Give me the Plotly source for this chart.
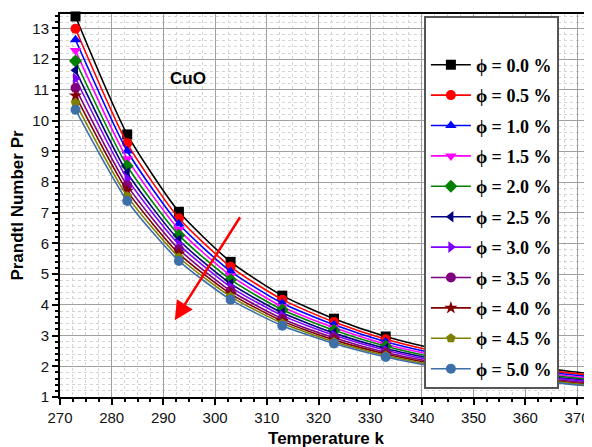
import plotly.graph_objects as go

temps = [273, 283, 293, 303, 313, 323, 333, 343, 353, 363, 373]
labels = ["ϕ = 0.0 %", "ϕ = 0.5 %", "ϕ = 1.0 %", "ϕ = 1.5 %", "ϕ = 2.0 %", "ϕ = 2.5 %",
          "ϕ = 3.0 %", "ϕ = 3.5 %", "ϕ = 4.0 %", "ϕ = 4.5 %", "ϕ = 5.0 %"]
pr_00 = [13.39, 9.55, 7.03, 5.40, 4.30, 3.55, 2.97, 2.55, 2.22, 1.95, 1.75]
pr_05 = [12.99, 9.26, 6.82, 5.24, 4.17, 3.44, 2.88, 2.47, 2.15, 1.89, 1.70]
pr_10 = [12.63, 9.01, 6.63, 5.09, 4.05, 3.35, 2.80, 2.40, 2.09, 1.84, 1.65]
pr_15 = [12.28, 8.76, 6.45, 4.95, 3.94, 3.26, 2.72, 2.34, 2.04, 1.79, 1.60]
pr_20 = [11.94, 8.52, 6.27, 4.82, 3.84, 3.17, 2.65, 2.27, 1.98, 1.74, 1.56]
pr_25 = [11.64, 8.30, 6.11, 4.69, 3.74, 3.08, 2.58, 2.22, 1.93, 1.69, 1.52]
pr_30 = [11.37, 8.11, 5.97, 4.58, 3.65, 3.01, 2.52, 2.16, 1.88, 1.66, 1.49]
pr_35 = [11.06, 7.89, 5.81, 4.46, 3.55, 2.93, 2.45, 2.11, 1.83, 1.61, 1.45]
pr_40 = [10.81, 7.71, 5.67, 4.36, 3.47, 2.86, 2.40, 2.06, 1.79, 1.57, 1.41]
pr_45 = [10.58, 7.54, 5.55, 4.27, 3.40, 2.80, 2.35, 2.01, 1.75, 1.54, 1.38]
pr_50 = [10.35, 7.38, 5.43, 4.17, 3.32, 2.74, 2.30, 1.97, 1.72, 1.51, 1.35]

series = [pr_00, pr_05, pr_10, pr_15, pr_20, pr_25, pr_30, pr_35, pr_40, pr_45, pr_50]
colors = ["#000000", "#ff0000", "#0000ff", "#ff00ff", "#008000", "#000080",
          "#8000ff", "#800080", "#800000", "#808000", "#3d6fa8"]
symbols = ["square", "circle", "triangle-up", "triangle-down", "diamond", "triangle-left",
           "triangle-right", "circle", "star", "pentagon", "circle"]

fig = go.Figure()
for i, (lab, ys) in enumerate(zip(labels, series)):
    fig.add_trace(go.Scatter(
        x=temps, y=ys, name=f"<b>{lab}</b>", mode="lines+markers", legendgroup=f"g{i}",
        line=dict(color=colors[i], width=1.6, shape="spline", smoothing=0.6),
        marker=dict(symbol=symbols[i], size=10, color=colors[i]),
        cliponaxis=False,
    ))

fig.add_annotation(x=292.2, y=3.5, ax=305.0, ay=6.9, xref="x", yref="y", axref="x", ayref="y",
                   showarrow=True, arrowhead=2, arrowsize=1.5, arrowwidth=2.5, arrowcolor="#ff0000", text="")
fig.add_annotation(x=294.8, y=11.38, xref="x", yref="y", text="<b>CuO</b>", showarrow=False,
                   font=dict(family="Arial, Liberation Sans", size=17, color="black"))

axis_common = dict(
    showline=True, linecolor="black", linewidth=2, mirror=True,
    ticks="outside", ticklen=6, tickwidth=1.5, tickcolor="black",
    showgrid=True, gridcolor="#a0a0a0", gridwidth=1,
    tickfont=dict(family="Arial, Liberation Sans", size=15, color="#111"),
    zeroline=False, automargin=False,
)
fig.update_xaxes(**axis_common, range=[270, 372.9], dtick=10, tick0=270,
                 minor=dict(dtick=2.5, ticklen=3, tickcolor="black", showgrid=True,
                            gridcolor="#d4d4d4", griddash="dot", gridwidth=1),
                 title=dict(text="<b>Temperature k</b>", standoff=7,
                            font=dict(family="Arial, Liberation Sans", size=17, color="black")))
fig.update_yaxes(**axis_common, range=[1, 13.47], dtick=1, tick0=1,
                 minor=dict(dtick=0.2, ticklen=3, tickcolor="black", showgrid=True,
                            gridcolor="#d4d4d4", griddash="dot", gridwidth=1),
                 title=dict(text="<b>Prandtl Number Pr</b>", standoff=8,
                            font=dict(family="Arial, Liberation Sans", size=17, color="black")))

fig.update_layout(
    width=592, height=447,
    margin=dict(l=52, r=8, t=6, b=58),
    paper_bgcolor="white", plot_bgcolor="white",
    legend=dict(
        x=0.684, y=0.995, xanchor="left", yanchor="top",
        bgcolor="white", bordercolor="#555555", borderwidth=2,
        font=dict(family="Times New Roman, Liberation Serif", size=18, color="black"),
        title=dict(text=" ", font=dict(size=22)),
        tracegroupgap=4, itemwidth=40,
    ),
    showlegend=True,
)

fig.write_html("out.html")
